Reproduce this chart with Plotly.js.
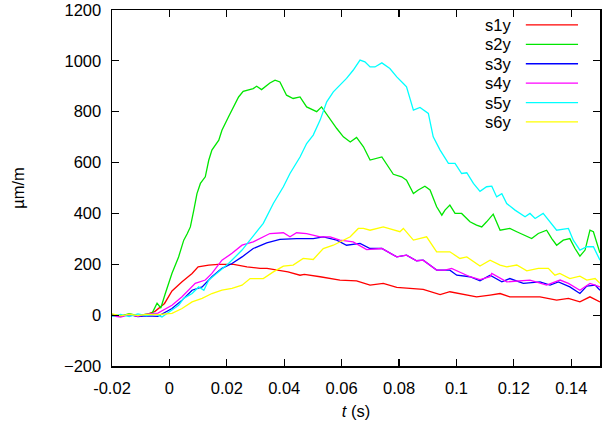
<!DOCTYPE html>
<html>
<head>
<meta charset="utf-8">
<script src="https://cdn.plot.ly/plotly-3.0.1.min.js"></script>
<style>html,body{margin:0;padding:0;background:#fff;}#chart{width:605px;height:429px;}</style>
</head>
<body>
<div id="chart"></div>
<script>
// ---- data ----
const names = ["s1y", "s2y", "s3y", "s4y", "s5y", "s6y"];
const colors = ["#ff0000", "#00e600", "#0000ff", "#ff00ff", "#00ffff", "#ffff00"];

const t1 = [-0.02,-0.017,-0.014,-0.011,-0.008,-0.005,-0.0017,0.0009,0.0044,0.0065,0.0079,0.01,0.0137,0.017,0.0224,0.027,0.0316,0.034,0.0385,0.0413,0.0455,0.047,0.0525,0.0594,0.0652,0.0699,0.0745,0.0792,0.0884,0.0943,0.0977,0.107,0.1117,0.1152,0.1186,0.1233,0.1291,0.1349,0.139,0.143,0.1465,0.15];
const s1y = [0,-5,3,-4,2,15,46,95,131,151,164,190,197,200,200,190,184,184,177,170,157,160,151,138,135,118,125,109,101,81,92,72,79,85,72,72,72,59,66,52,72,52];

const t2 = [-0.02,-0.017,-0.014,-0.011,-0.008,-0.006,-0.0043,-0.003,-0.0014,0.0009,0.0032,0.005,0.0062,0.0073,0.0085,0.0096,0.0108,0.0125,0.0137,0.0148,0.0172,0.0183,0.0206,0.0218,0.0241,0.0257,0.0292,0.0304,0.0321,0.035,0.0368,0.0385,0.0408,0.0431,0.0455,0.0478,0.0513,0.053,0.0556,0.0583,0.0606,0.063,0.0652,0.0676,0.0699,0.074,0.078,0.0809,0.0826,0.085,0.0867,0.089,0.0908,0.0931,0.0949,0.096,0.0977,0.0995,0.1018,0.1047,0.107,0.1088,0.1105,0.1128,0.1152,0.1186,0.121,0.1233,0.1262,0.1285,0.1314,0.1332,0.1349,0.1372,0.1395,0.1413,0.143,0.1448,0.1465,0.1477,0.1489,0.15];
const s2y = [3,-4,6,-2,4,8,47,28,86,165,229,295,320,347,413,478,518,544,609,649,688,727,780,806,858,880,891,900,887,913,924,917,865,852,858,819,800,819,775,734,701,681,699,662,610,622,554,544,531,478,492,507,492,426,393,413,433,400,400,367,354,347,367,397,334,341,328,315,301,321,334,301,275,295,301,262,232,256,334,328,288,244];

const t3 = [-0.02,-0.017,-0.014,-0.011,-0.008,-0.004,0.0009,0.0044,0.0079,0.0114,0.0148,0.0183,0.0218,0.0253,0.0292,0.0339,0.0385,0.0443,0.0501,0.0536,0.0583,0.0617,0.0664,0.0699,0.074,0.0792,0.0826,0.0861,0.0884,0.0931,0.0977,0.1001,0.1047,0.1082,0.1117,0.1158,0.1186,0.1233,0.1291,0.1326,0.1355,0.1395,0.143,0.1454,0.1483,0.15];
const s3y = [2,-4,3,-6,-3,-5,26,59,98,111,151,184,203,229,262,284,298,301,301,308,295,275,282,262,262,229,236,214,216,177,177,157,151,135,157,131,144,125,131,118,131,111,85,114,118,98];

const t4 = [-0.02,-0.017,-0.014,-0.011,-0.008,-0.004,0.0009,0.0044,0.009,0.0125,0.0148,0.0183,0.0218,0.0253,0.0292,0.035,0.0397,0.042,0.0443,0.0478,0.0525,0.056,0.0594,0.064,0.0687,0.074,0.0792,0.0826,0.0861,0.0884,0.0931,0.096,0.0983,0.1047,0.1082,0.1117,0.1123,0.1175,0.1256,0.1314,0.1361,0.139,0.143,0.1465,0.15];
const s4y = [-3,-8,2,-5,4,8,39,72,125,138,164,216,243,275,288,321,324,308,324,321,308,308,295,288,258,262,229,236,214,216,177,177,184,151,140,151,164,131,138,118,138,125,98,125,111];

const t5 = [-0.02,-0.017,-0.014,-0.011,-0.008,-0.005,-0.0026,0.0009,0.0032,0.005,0.0079,0.0102,0.012,0.0137,0.0172,0.0206,0.0253,0.0281,0.0327,0.0362,0.0397,0.042,0.0455,0.0478,0.0501,0.0525,0.0548,0.0571,0.0594,0.0617,0.064,0.0664,0.0681,0.0699,0.0716,0.074,0.0768,0.0792,0.0815,0.0826,0.085,0.0873,0.0902,0.0919,0.0943,0.0972,0.0995,0.1018,0.1036,0.1059,0.1082,0.1105,0.1123,0.114,0.1158,0.1175,0.1204,0.1239,0.1256,0.1274,0.1302,0.1326,0.1349,0.139,0.1407,0.143,0.1454,0.1477,0.15];
const s5y = [-5,3,-6,5,-2,4,-7,20,39,66,85,111,98,138,170,203,256,295,361,439,505,557,622,675,708,767,839,878,904,931,963,1003,996,976,976,992,970,937,911,898,806,817,793,701,649,597,597,557,560,518,487,505,507,465,478,439,413,387,400,380,400,367,334,341,295,256,269,269,216];

const t6 = [-0.02,-0.017,-0.014,-0.011,-0.008,-0.004,0.0009,0.0044,0.0079,0.0114,0.0148,0.0183,0.0218,0.0253,0.0281,0.0327,0.0362,0.0397,0.0431,0.0466,0.0501,0.0536,0.0571,0.0606,0.063,0.0658,0.0676,0.0699,0.0745,0.0803,0.0815,0.085,0.0896,0.0931,0.0977,0.1012,0.1036,0.1082,0.1117,0.1152,0.1175,0.121,0.1245,0.1285,0.132,0.1343,0.136,0.1395,0.143,0.1454,0.1483,0.15];
const s6y = [5,-3,4,-2,3,2,7,26,52,66,85,98,105,118,144,144,170,193,197,223,219,262,275,295,308,341,341,334,347,328,341,295,308,249,249,223,229,193,216,197,190,197,174,184,184,157,164,144,153,138,144,125];

const xs = [t1, t2, t3, t4, t5, t6];
const ys = [s1y, s2y, s3y, s4y, s5y, s6y];

const xTicks = [-0.02, 0, 0.02, 0.04, 0.06, 0.08, 0.1, 0.12, 0.14];
const xTickText = ["-0.02", "0", "0.02", "0.04", "0.06", "0.08", "0.1", "0.12", "0.14"];
const yTicks = [-200, 0, 200, 400, 600, 800, 1000, 1200];

// ---- chart ----
const traces = names.map((n, i) => ({
  x: xs[i], y: ys[i], type: "scatter", mode: "lines", name: n,
  line: {color: colors[i], width: 1.3}, hoverinfo: "skip", showlegend: false
}));

const font = {family: "Liberation Sans, Arial, sans-serif", size: 16.5, color: "#000"};

// gnuplot-style key: right-aligned text, line sample to its right
const annotations = [];
const shapes = [];
names.forEach((n, i) => {
  const yy = 0.958 - i * 0.0545;
  annotations.push({xref: "paper", yref: "paper", x: 0.822, y: yy, text: n,
    showarrow: false, xanchor: "right", yanchor: "middle", font: font});
  shapes.push({type: "line", xref: "paper", yref: "paper", x0: 0.848, x1: 0.955, y0: yy, y1: yy,
    line: {color: colors[i], width: 1.3}});
});

const axisCommon = {
  showline: true, linecolor: "#000", linewidth: 1.5, mirror: "allticks",
  ticks: "inside", ticklen: 7, tickwidth: 1.2, tickcolor: "#000",
  showgrid: false, zeroline: false, tickfont: font
};

const layout = {
  width: 605, height: 429,
  margin: {l: 112, r: 5, t: 10, b: 63},
  paper_bgcolor: "#fff", plot_bgcolor: "#fff",
  font: font,
  xaxis: Object.assign({}, axisCommon, {
    range: [-0.02, 0.15], tickvals: xTicks, ticktext: xTickText,
    ticklabelstandoff: 7,
    title: {text: "<i>t</i> (s)", font: font, standoff: 9}
  }),
  yaxis: Object.assign({}, axisCommon, {
    range: [-200, 1200], tickvals: yTicks,
    ticklabelstandoff: 6,
    title: {text: "µm/m", font: font, standoff: 35}
  }),
  annotations: annotations,
  shapes: shapes
};

Plotly.newPlot("chart", traces, layout, {staticPlot: true, displayModeBar: false});
</script>
</body>
</html>
